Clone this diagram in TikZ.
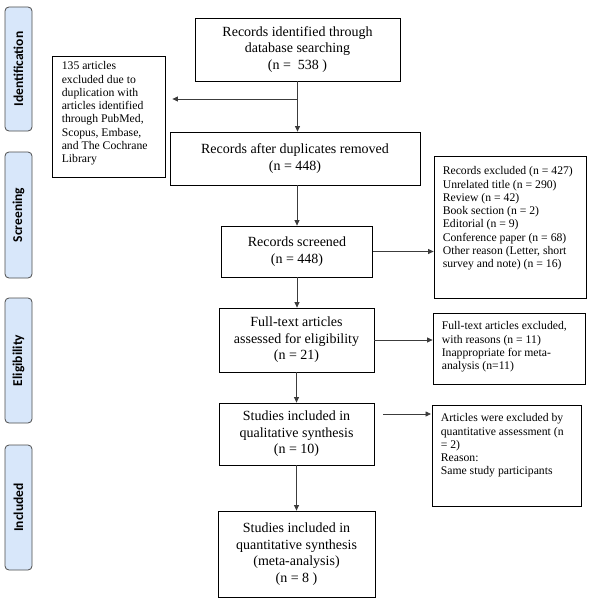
\documentclass[tikz,border=0pt]{standalone}
\usepackage{fontspec}
\setmainfont{Liberation Serif}
\newfontfamily\lblfont{Carlito}
\usetikzlibrary{arrows.meta}
\definecolor{phaseblue}{RGB}{216,231,250}
\definecolor{arrgray}{RGB}{60,60,60}
\begin{document}
\begin{tikzpicture}[x=1pt,y=-1pt,
  box/.style={draw=black, line width=0.8pt, align=center, inner sep=0pt,
    font=\fontsize{14}{16.6}\selectfont},
  sbox/.style={draw=black, line width=0.8pt, inner sep=0pt},
  stext/.style={anchor=north west, inner sep=0pt, align=left,
    font=\fontsize{11.7}{13.25}\selectfont},
  phase/.style={draw=gray!60!black, fill=phaseblue, rounded corners=4pt,
    line width=0.8pt, inner sep=0pt, rotate=90, minimum height=27pt,
    font=\lblfont\bfseries\fontsize{13.5}{15}\selectfont},
  arr/.style={draw=arrgray, line width=0.8pt, -{Triangle[length=5.5pt,width=5pt]}}]
\useasboundingbox (0,0) rectangle (590,602);

% phase labels
\node[phase, minimum width=124pt] (p1) at (18.5,69) {Identification};
\node[phase, minimum width=126pt] (p2) at (18.5,215) {Screening};
\node[phase, minimum width=125pt] (p3) at (18.5,360.5) {Eligibility};
\node[phase, minimum width=125pt] (p4) at (18.5,507.5) {Included};

% main boxes
\node[box, minimum width=205pt, minimum height=63pt] (top) at (297.5,49.5)
  {Records identified through\\database searching\\(n =\ \ 538 )};
\node[box, minimum width=250pt, minimum height=53pt] (dup) at (295,158.5)
  {Records after duplicates removed\\(n = 448)};
\node[box, minimum width=151pt, minimum height=51pt] (scr) at (297,251.5)
  {Records screened\\(n = 448)};
\node[box, minimum width=155pt, minimum height=64pt] (full) at (296.5,340)
  {Full-text articles\\assessed for eligibility\\(n = 21)};
\node[box, minimum width=155pt, minimum height=62pt] (qual) at (296.5,434)
  {Studies included in\\qualitative synthesis\\(n = 10)};
\node[box, minimum width=157pt, minimum height=86pt] (quant) at (296.5,554)
  {Studies included in\\quantitative synthesis\\(meta-analysis)\\(n = 8 )};

% side boxes
\node[sbox, minimum width=113pt, minimum height=121pt] (dupl) at (108.5,116.5) {};
\node[stext] (duplt) at ([xshift=10pt,yshift=-6pt]dupl.north west)
  {135 articles\\excluded due to\\duplication with\\articles identified\\through PubMed,\\Scopus, Embase,\\and The Cochrane\\Library};

\node[sbox, minimum width=152pt, minimum height=142pt] (exc) at (510,227) {};
\node[stext] (exct) at ([xshift=9pt,yshift=-11pt]exc.north west)
  {Records excluded (n = 427)\\Unrelated title (n = 290)\\Review (n = 42)\\Book section (n = 2)\\Editorial (n = 9)\\Conference paper (n = 68)\\Other reason (Letter, short\\survey and note) (n = 16)};

\node[sbox, minimum width=152pt, minimum height=71pt] (ftexc) at (509,348.5) {};
\node[stext] (ftexct) at ([xshift=9pt,yshift=-9pt]ftexc.north west)
  {Full-text articles excluded,\\with reasons (n = 11)\\Inappropriate for meta-\\analysis (n=11)};

\node[sbox, minimum width=149pt, minimum height=101pt] (qexc) at (506.5,455.5) {};
\node[stext] (qexct) at ([xshift=9pt,yshift=-9pt]qexc.north west)
  {Articles were excluded by\\quantitative assessment (n\\= 2)\\Reason:\\Same study participants};

% connectors
\coordinate (j1) at (297.5,99);
\draw[arr] (top.south) -- (top.south |- dup.north);
\draw[arr, shorten >=7pt] (j1) -- (j1 -| dupl.east);
\draw[arr] (scr.north |- dup.south) -- (scr.north);
\draw[arr] (scr.east) -- (scr.east -| exc.west);
\draw[arr] (scr.south) -- (scr.south |- full.north);
\draw[arr] (full.east) -- (full.east -| ftexc.west);
\draw[arr] (full.south) -- (qual.north);
\coordinate (qa) at (383,414);
\coordinate (qb) at (431,414);
\draw[arr] (qa) -- (qb);
\draw[arr] (qual.south) -- (quant.north);
\end{tikzpicture}
\end{document}
